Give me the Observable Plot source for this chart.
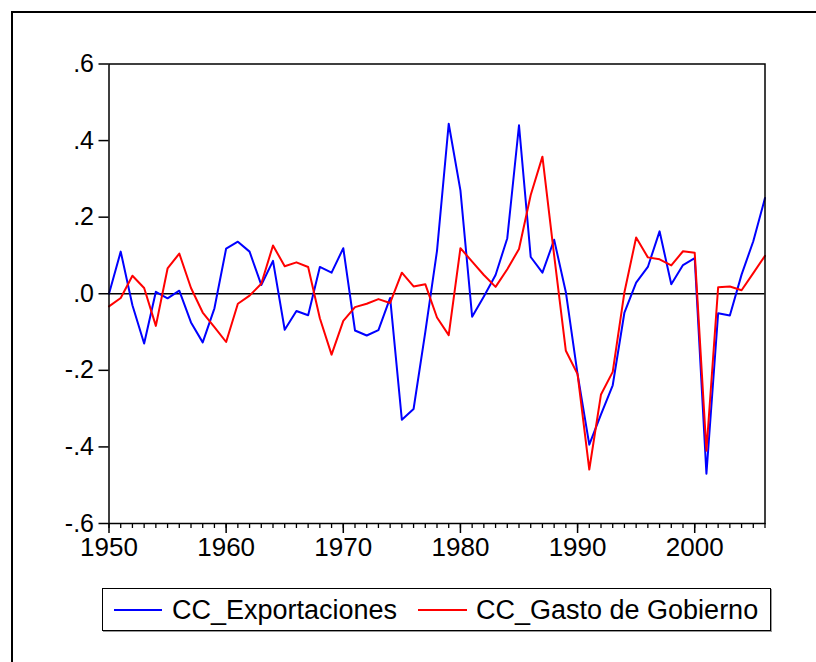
<!DOCTYPE html>
<html>
<head>
<meta charset="utf-8">
<script src="https://cdn.jsdelivr.net/npm/d3@7"></script>
<script src="https://cdn.jsdelivr.net/npm/@observablehq/plot@0.6"></script>
<style>
  html, body { margin: 0; padding: 0; background: #fff; width: 816px; height: 662px; overflow: hidden; }
  body { position: relative; font-family: "Liberation Sans", Arial, sans-serif; color: #000; }
  #outer { position: absolute; left: 11px; top: 11px; width: 900px; height: 800px; border: 2px solid #000; box-sizing: border-box; }
  #chart { position: absolute; left: 0; top: 0; }
  #legend { position: absolute; left: 102px; top: 588px; width: 669px; height: 43px; border: 1.5px solid #000; box-sizing: border-box; box-shadow: 1px 1px 0 #999; background: #fff; }
  .sw { position: absolute; top: 19px; width: 50px; height: 4px; }
  .lt { position: absolute; top: 4px; font-size: 27px; line-height: 34px; white-space: nowrap; }
</style>
</head>
<body>
<div id="outer"></div>
<div id="chart"></div>
<div id="legend">
  <svg class="sw" style="left:11px" width="50" height="4"><line id="s1" x1="0" x2="48" y1="2" y2="2" stroke-width="2"/></svg>
  <div class="lt" id="l1" style="left:69px"></div>
  <svg class="sw" style="left:315px" width="50" height="4"><line id="s2" x1="0" x2="49" y1="2" y2="2" stroke-width="2"/></svg>
  <div class="lt" id="l2" style="left:373px"></div>
</div>
<script>
const years = d3.range(1950, 2007);
const seriesNames = ["CC_Exportaciones", "CC_Gasto de Gobierno"];
const exportaciones = [
  0.0, 0.11, -0.03, -0.13, 0.005, -0.012, 0.008, -0.075, -0.127, -0.038,
  0.118, 0.136, 0.11, 0.023, 0.086, -0.094, -0.045, -0.056, 0.07, 0.055,
  0.119, -0.096, -0.109, -0.095, -0.011, -0.329, -0.301, -0.1, 0.112, 0.444,
  0.27, -0.06, -0.007, 0.049, 0.145, 0.44, 0.096, 0.055, 0.141, 0.004,
  -0.21, -0.394, -0.315, -0.239, -0.049, 0.029, 0.07, 0.163, 0.025, 0.075,
  0.093, -0.47, -0.051, -0.057, 0.05, 0.137, 0.25
];
const gastoGobierno = [
  -0.033, -0.011, 0.047, 0.015, -0.084, 0.066, 0.105, 0.015, -0.049, -0.087,
  -0.126, -0.026, -0.005, 0.026, 0.126, 0.072, 0.082, 0.07, -0.064, -0.159,
  -0.071, -0.035, -0.026, -0.014, -0.024, 0.055, 0.019, 0.025, -0.062, -0.108,
  0.119, 0.084, 0.049, 0.018, 0.064, 0.117, 0.258, 0.358, 0.1, -0.149,
  -0.21, -0.459, -0.263, -0.204, 0.004, 0.147, 0.095, 0.09, 0.074, 0.111,
  0.107, -0.41, 0.017, 0.019, 0.009, 0.054, 0.099
];
const yTicks = [-0.6, -0.4, -0.2, 0, 0.2, 0.4, 0.6];
const xMajor = [1950, 1960, 1970, 1980, 1990, 2000];
const colors = ["#0000ff", "#ff0000"];

const data = [];
years.forEach((yr, i) => {
  data.push({year: yr, value: exportaciones[i], series: seriesNames[0]});
  data.push({year: yr, value: gastoGobierno[i], series: seriesNames[1]});
});

const fmt = d => d.toFixed(1).replace("0.", ".");

const chart = Plot.plot({
  width: 816,
  height: 580,
  marginLeft: 108.5,
  marginRight: 51.5,
  marginTop: 63.5,
  marginBottom: 57,
  style: {fontFamily: "'Liberation Sans', Arial, sans-serif", fontSize: "25px", color: "#000", background: "transparent"},
  x: {domain: [1950, 2006]},
  y: {domain: [-0.6, 0.6]},
  color: {domain: seriesNames, range: colors},
  marks: [
    Plot.ruleY([0], {stroke: "#000", strokeWidth: 1.5}),
    Plot.line(data, {x: "year", y: "value", z: "series", stroke: "series", strokeWidth: 2}),
    Plot.frame({stroke: "#000", strokeWidth: 1.5}),
    Plot.axisY({ticks: yTicks, tickFormat: fmt, tickSize: 10, tickPadding: 5, strokeWidth: 1.5, label: null, fontSize: 25}),
    Plot.axisX({ticks: years, tickSize: 5, tickFormat: () => "", strokeWidth: 1.3, label: null}),
    Plot.axisX({ticks: xMajor, tickSize: 10, tickPadding: 4, tickFormat: d => String(d), strokeWidth: 1.5, label: null, fontSize: 26})
  ]
});
document.getElementById("chart").appendChild(chart);
document.getElementById("l1").textContent = seriesNames[0];
document.getElementById("l2").textContent = seriesNames[1];
document.getElementById("s1").setAttribute("stroke", colors[0]);
document.getElementById("s2").setAttribute("stroke", colors[1]);
</script>
</body>
</html>
